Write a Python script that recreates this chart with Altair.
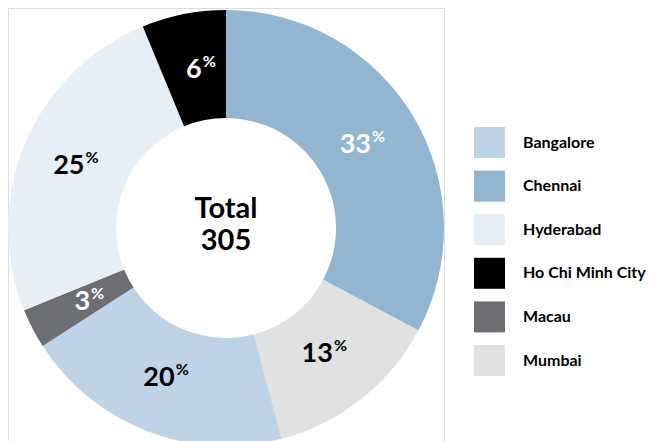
import altair as alt
import pandas as pd

# Slice order (clockwise from 12 o'clock)
cities = ["Chennai", "Mumbai", "Bangalore", "Macau", "Hyderabad", "Ho Chi Minh City"]
values = [100, 40, 61, 9, 76, 19]
pct_labels = ["33", "13", "20", "3", "25", "6"]
label_colors = ["#ffffff", "#000000", "#000000", "#ffffff", "#000000", "#ffffff"]

legend_order = ["Bangalore", "Chennai", "Hyderabad", "Ho Chi Minh City", "Macau", "Mumbai"]
legend_colors = ["#bed4e6", "#92b5d2", "#e6eef6", "#000000", "#6d6e72", "#e0e1e3"]

total_lines = ["Total", "305"]

df = pd.DataFrame({
    "city": cities,
    "value": values,
    "pct": pct_labels,
    "lc": label_colors,
    "order": list(range(len(cities))),
    "sign": ["%"] * len(cities),
})

FONT = "Lato"

base = alt.Chart(df).encode(
    theta=alt.Theta("value:Q", stack=True),
    order=alt.Order("order:Q"),
)

arcs = base.mark_arc(innerRadius=110, outerRadius=218).encode(
    color=alt.Color(
        "city:N",
        scale=alt.Scale(domain=legend_order, range=legend_colors),
        sort=legend_order,
        legend=alt.Legend(
            title=None,
            orient="none",
            legendX=466,
            legendY=119,
            symbolType="square",
            symbolSize=961,
            symbolStrokeWidth=0,
            labelFontSize=16,
            labelFont=FONT,
            labelFontWeight="bold",
            labelColor="#000000",
            labelOffset=18,
            rowPadding=12.6,
            padding=0,
        ),
    )
)

nums = base.mark_text(
    radius=161, align="right", baseline="middle", dx=7, fontSize=27,
    font=FONT, fontWeight="bold"
).encode(
    text="pct:N",
    color=alt.Color("lc:N", scale=None),
)

pcts = base.mark_text(
    radius=161, align="left", baseline="middle", dx=8, dy=-8, fontSize=16,
    font=FONT, fontWeight="bold"
).encode(
    text="sign:N",
    color=alt.Color("lc:N", scale=None),
)

center_df = pd.DataFrame({"t": total_lines, "y": [201, 233]})
center = alt.Chart(center_df).mark_text(
    fontSize=29, font=FONT, fontWeight="bold", color="#000000",
    align="center", baseline="middle"
).encode(
    text="t:N",
    x=alt.value(218),
    y=alt.Y("y:Q", scale=None, axis=None),
)

chart = alt.layer(arcs, nums, pcts, center).resolve_scale(
    color="independent"
).properties(
    width=436, height=440, padding=0
).configure_view(stroke=None).configure(background="#ffffff")

chart.save("out.html", embed_options={"renderer": "svg", "actions": False})
